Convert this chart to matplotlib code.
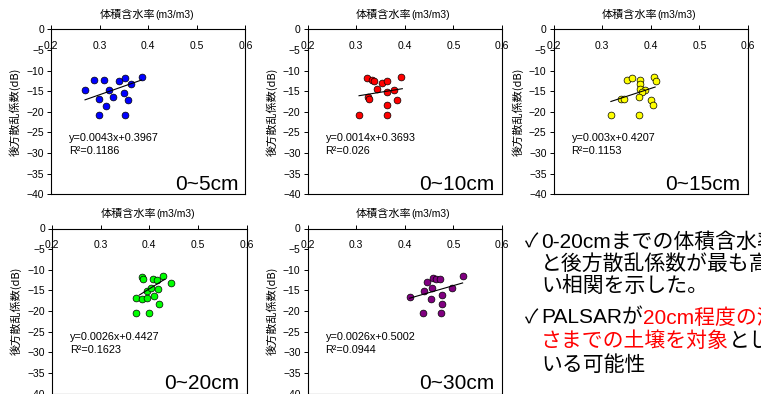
import numpy as np
import matplotlib.pyplot as plt

plt.rcParams['font.family'] = ['Noto Sans CJK JP', 'DejaVu Sans']

# 体積含水率 (m3/m3) と 後方散乱係数 (dB) — 深さ別
moist_5 = [0.270, 0.288, 0.299, 0.299, 0.310, 0.314, 0.320, 0.328, 0.340, 0.352, 0.351, 0.358, 0.365, 0.353, 0.388]
bsc_5 = [-14.6, -12.4, -16.9, -20.8, -12.4, -18.6, -14.7, -16.3, -12.5, -11.9, -15.4, -17.1, -13.3, -20.8, -11.6]

moist_10 = [0.322, 0.333, 0.336, 0.353, 0.364, 0.342, 0.324, 0.327, 0.306, 0.364, 0.378, 0.393, 0.385, 0.364, 0.363]
bsc_10 = [-11.8, -12.3, -12.5, -13.1, -12.5, -14.5, -16.3, -17.0, -20.8, -15.3, -14.6, -11.6, -17.1, -18.4, -20.8]

moist_15 = [0.318, 0.338, 0.344, 0.352, 0.361, 0.377, 0.378, 0.378, 0.388, 0.382, 0.375, 0.376, 0.400, 0.404, 0.407, 0.410]
bsc_15 = [-20.8, -16.9, -16.9, -12.4, -11.8, -12.3, -13.2, -14.5, -14.7, -15.3, -16.3, -20.8, -17.1, -18.4, -11.5, -12.5]

moist_20 = [0.372, 0.399, 0.373, 0.385, 0.396, 0.410, 0.420, 0.395, 0.403, 0.417, 0.386, 0.388, 0.408, 0.415, 0.428, 0.444]
bsc_20 = [-20.6, -20.6, -16.8, -17.1, -16.9, -16.3, -18.4, -15.2, -14.5, -14.7, -11.7, -12.3, -12.3, -12.5, -11.5, -13.1]

moist_30 = [0.410, 0.438, 0.474, 0.440, 0.446, 0.454, 0.457, 0.459, 0.465, 0.472, 0.477, 0.476, 0.498, 0.519]
bsc_30 = [-16.7, -20.6, -20.6, -15.2, -13.0, -17.0, -14.4, -11.9, -12.3, -12.3, -16.2, -18.4, -14.5, -11.5]

# 近似直線の両端
trend_x = [(0.270, 0.386), (0.306, 0.395), (0.318, 0.409), (0.380, 0.432), (0.410, 0.519)]
trend_y = [(-17.1, -12.3), (-16.1, -14.4), (-17.5, -14.0), (-16.1, -12.3), (-16.9, -13.2)]

depths = ['0~5cm', '0~10cm', '0~15cm', '0~20cm', '0~30cm']
equations = ['y=0.0043x+0.3967', 'y=0.0014x+0.3693', 'y=0.003x+0.4207', 'y=0.0026x+0.4427', 'y=0.0026x+0.5002']
r_squared = ['0.1186', '0.026', '0.1153', '0.1623', '0.0944']
colors = ['#0000ff', '#ff0000', '#ffff00', '#00ff00', '#800080']
x_ticks = [0.2, 0.3, 0.4, 0.5, 0.6]
x_ticklabels = ['0.2', '0.3', '0.4', '0.5', '0.6']

series = [(moist_5, bsc_5), (moist_10, bsc_10), (moist_15, bsc_15), (moist_20, bsc_20), (moist_30, bsc_30)]

W, H = 761, 394
fig = plt.figure(figsize=(W / 100, H / 100), dpi=100)

# 軸の位置 (ピクセル: 左, 上)
boxes = [(51, 29.3), (307.5, 29.3), (553.5, 29.3), (52, 228.5), (307.5, 228.5)]
aw, ah = 194.5, 165

num = 'Liberation Sans'

for i, (left, top) in enumerate(boxes):
    ax = fig.add_axes([left / W, 1 - (top + ah) / H, aw / W, ah / H])
    x, y = series[i]
    ax.scatter(x, y, s=24, c=colors[i], edgecolors='black', linewidths=0.5, zorder=3)
    ax.plot(trend_x[i], trend_y[i], color='black', lw=0.8, zorder=4)

    ax.set_xlim(0.2, 0.6)
    ax.set_ylim(-40, 0)
    ax.set_xticks(x_ticks)
    ax.set_xticklabels(x_ticklabels)
    ax.set_yticks(range(-40, 1, 5))
    ax.xaxis.tick_top()
    ax.tick_params(axis='x', direction='out', length=3, width=0.7, pad=-18.5, labelsize=7.5)
    ax.tick_params(axis='y', direction='out', length=3, width=0.7, pad=2, labelsize=7.5)
    for lab in ax.get_xticklabels() + ax.get_yticklabels():
        lab.set_family(num)
    for sp in ax.spines.values():
        sp.set_linewidth(0.8)

    ax.text(-0.185, 0.5, '後方散乱係数(dB)', transform=ax.transAxes, rotation=90,
            ha='center', va='center', fontsize=8)
    ax.text(0.535, 1.087, '体積含水率', transform=ax.transAxes, ha='right', va='center', fontsize=8)
    ax.text(0.535, 1.087, '(m3/m3)', transform=ax.transAxes, ha='left', va='center',
            fontsize=7.5, family=num)

    ax.text(0.237, -26.4, equations[i], ha='left', va='center', fontsize=7.8, family=num)
    ax.text(0.237, -29.4, 'R²=' + r_squared[i], ha='left', va='center', fontsize=7.8, family=num)
    ax.text(0.585, -39.0, depths[i], ha='right', va='baseline', fontsize=15, family=num)

# 右下のコメント
renderer = fig.canvas.get_renderer()
note_font = ['Liberation Sans', 'Noto Sans CJK JP', 'DejaVu Sans']
notes = [
    (242, True, [('0-20cmまでの体積含水率', 'black')]),
    (264, False, [('と後方散乱係数が最も高い', 'black')]),
    (286, False, [('い相関を示した。', 'black')]),
    (318, True, [('PALSARが', 'black'), ('20cm程度の深さ', '#ff0000')]),
    (341, False, [('さまでの土壌を対象', '#ff0000'), ('として', 'black')]),
    (365, False, [('いる可能性', 'black')]),
]
for ypx, check, runs in notes:
    if check:
        fig.text(525 / W, 1 - ypx / H, '✓', ha='left', va='center', fontsize=14,
                 color='black', family=['Noto Sans CJK JP', 'DejaVu Sans'])
    xpx = 541
    for s, c in runs:
        t = fig.text(xpx / W, 1 - ypx / H, s, ha='left', va='center', fontsize=15,
                     color=c, family=note_font)
        bb = t.get_window_extent(renderer)
        xpx = bb.x1

fig.savefig('out.png', dpi=100)
